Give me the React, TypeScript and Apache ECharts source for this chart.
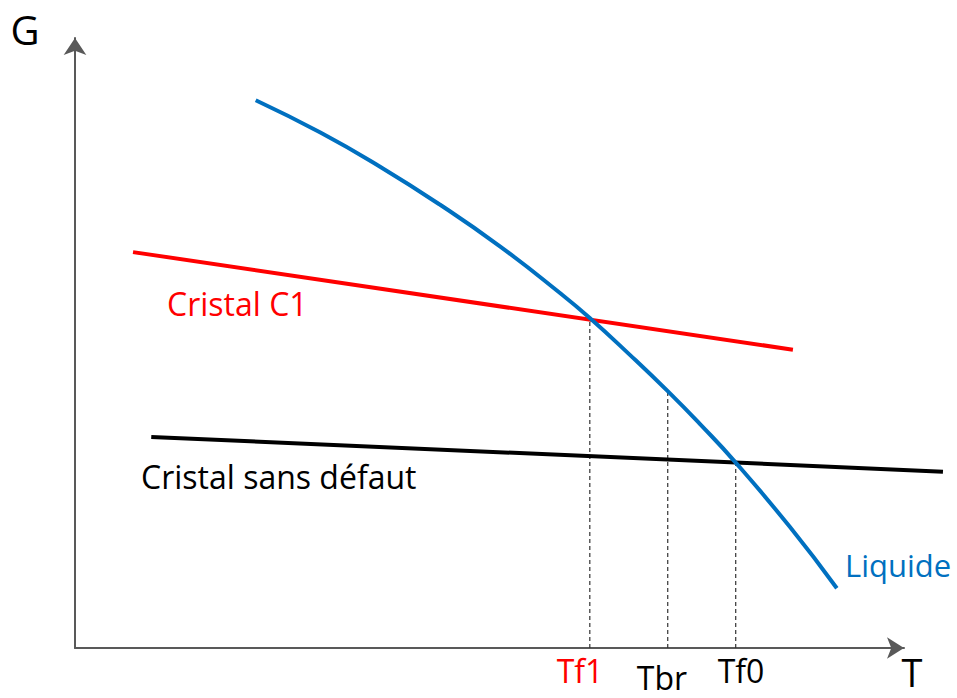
import React, { useEffect, useRef } from "react";
import * as echarts from "echarts";

// Abstract schematic units: T (x) 0..100 along the drawn axis, G (y) 0..100
const liquideT = [21.8, 29.6, 36.8, 44.0, 51.3, 58.5, 62.1, 66.9, 71.5, 75.4, 79.7, 86.2, 91.9];
const liquideG = [89.8, 84.5, 78.9, 72.7, 65.8, 58.2, 54.1, 48.1, 42.1, 36.7, 30.4, 19.9, 9.8];

const cristalC1T = [7.0, 86.6];
const cristalC1G = [64.9, 48.9];

const sansDefautT = [9.2, 104.7];
const sansDefautG = [34.6, 28.9];

const markNames = ["Tf1", "Tbr", "Tf0"];
const markT = [62.1, 71.5, 79.7];
const markG = [54.1, 42.1, 30.4];

const FONT = "'Open Sans', 'Noto Sans', sans-serif";

function zip(xs: number[], ys: number[]) {
  return xs.map((x, i) => [x, ys[i]]);
}

const hiddenAxis = {
  axisLine: { show: false },
  axisTick: { show: false },
  axisLabel: { show: false },
  splitLine: { show: false },
};

export default function App() {
  const ref = useRef<HTMLDivElement>(null);
  useEffect(() => {
    document.body.style.margin = "0";
    const chart = echarts.init(ref.current!, null, { renderer: "svg" });
    const dashed = markT.map((t, i) => ({
      type: "line",
      xAxisIndex: 1,
      yAxisIndex: 1,
      data: [
        [t, 0],
        [t, markG[i]],
      ],
      showSymbol: false,
      silent: true,
      clip: false,
      lineStyle: { color: "#333", width: 1.2, type: [4, 3] },
      z: 1,
    }));
    const unit = 829 / 100;
    const dataMax = 106;
    chart.setOption({
      animation: false,
      backgroundColor: "#fff",
      grid: [
        { left: 75, right: 53, top: 38, bottom: 50 },
        { left: 75, right: 957 - 75 - unit * dataMax, top: 38, bottom: 50 },
      ],
      xAxis: [
        {
          type: "value",
          gridIndex: 0,
          min: 0,
          max: 100,
          axisLine: {
            show: true,
            onZero: false,
            symbol: ["none", "arrow"],
            symbolSize: [16, 17],
            lineStyle: { color: "#595959", width: 2 },
          },
          axisTick: { show: false },
          axisLabel: { show: false },
          splitLine: { show: false },
        },
        { type: "value", gridIndex: 1, min: 0, max: dataMax, ...hiddenAxis },
      ],
      yAxis: [
        {
          type: "value",
          gridIndex: 0,
          min: 0,
          max: 100,
          axisLine: {
            show: true,
            onZero: false,
            symbol: ["none", "arrow"],
            symbolSize: [17, 17],
            lineStyle: { color: "#595959", width: 2 },
          },
          axisTick: { show: false },
          axisLabel: { show: false },
          splitLine: { show: false },
        },
        { type: "value", gridIndex: 1, min: 0, max: 100, ...hiddenAxis },
      ],
      series: [
        ...dashed,
        {
          name: "Cristal C1",
          type: "line",
          xAxisIndex: 1,
          yAxisIndex: 1,
          data: zip(cristalC1T, cristalC1G),
          showSymbol: false,
          clip: false,
          lineStyle: { color: "#FF0000", width: 4 },
          z: 3,
        },
        {
          name: "Cristal sans défaut",
          type: "line",
          xAxisIndex: 1,
          yAxisIndex: 1,
          data: zip(sansDefautT, sansDefautG),
          showSymbol: false,
          clip: false,
          lineStyle: { color: "#000000", width: 4 },
          z: 3,
        },
        {
          name: "Liquide",
          type: "line",
          xAxisIndex: 1,
          yAxisIndex: 1,
          data: zip(liquideT, liquideG),
          showSymbol: false,
          smooth: true,
          clip: false,
          lineStyle: { color: "#0070C0", width: 4 },
          z: 4,
        },
      ],
      graphic: [
        { type: "text", x: 25, y: 29, style: { text: "G", font: `40px ${FONT}`, fill: "#000", align: "center", verticalAlign: "middle" } },
        { type: "text", x: 912, y: 672, style: { text: "T", font: `38px ${FONT}`, fill: "#000", align: "center", verticalAlign: "middle" } },
        { type: "text", x: 167, y: 303, style: { text: "Cristal C1", font: `32px ${FONT}`, fill: "#FF0000", align: "left", verticalAlign: "middle" } },
        { type: "text", x: 141, y: 476, style: { text: "Cristal sans défaut", font: `32px ${FONT}`, fill: "#000", align: "left", verticalAlign: "middle" } },
        { type: "text", x: 845, y: 565, style: { text: "Liquide", font: `31px ${FONT}`, fill: "#0070C0", align: "left", verticalAlign: "middle" } },
        { type: "text", x: 580, y: 670, style: { text: markNames[0], font: `32px ${FONT}`, fill: "#FF0000", align: "center", verticalAlign: "middle" } },
        { type: "text", x: 662, y: 677, style: { text: markNames[1], font: `32px ${FONT}`, fill: "#000", align: "center", verticalAlign: "middle" } },
        { type: "text", x: 741, y: 670, style: { text: markNames[2], font: `32px ${FONT}`, fill: "#000", align: "center", verticalAlign: "middle" } },
      ],
    });
    return () => chart.dispose();
  }, []);
  return <div ref={ref} style={{ width: 957, height: 698 }} />;
}
